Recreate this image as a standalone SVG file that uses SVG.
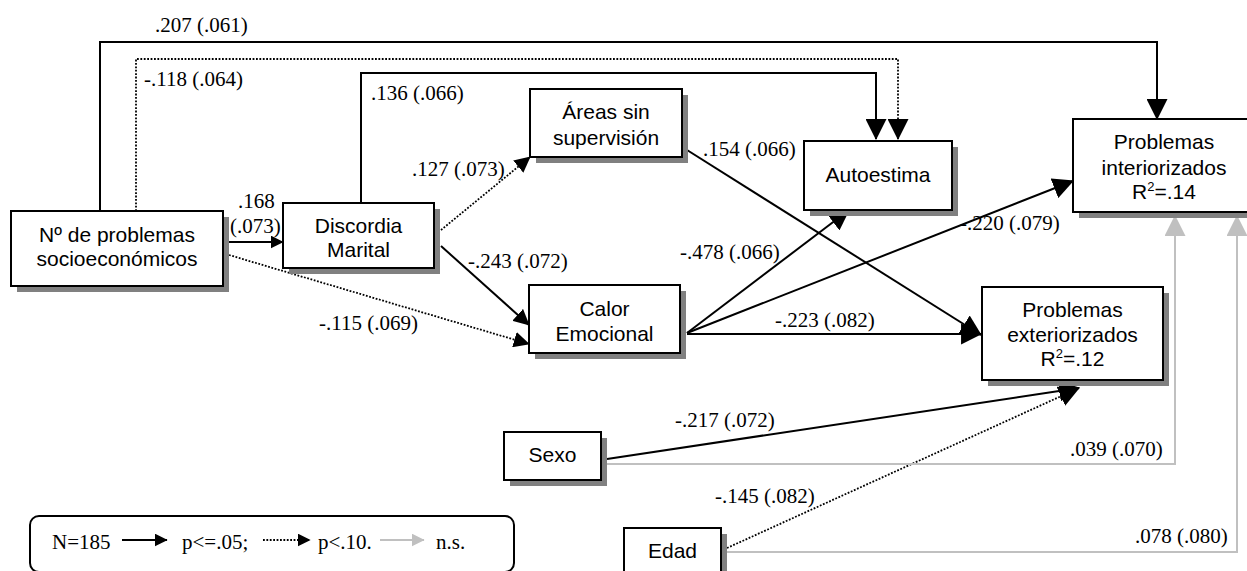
<svg xmlns="http://www.w3.org/2000/svg" width="1247" height="571" viewBox="0 0 1247 571">
  <style>
    .box { fill: #ffffff; stroke: #000000; stroke-width: 2; }
    .shadow { fill: #808080; }
    .node { font-family: "Liberation Sans", Arial, sans-serif; font-size: 21px; fill: #000000; text-anchor: middle; }
    .lbl { font-family: "Liberation Serif", "Times New Roman", serif; font-size: 21px; fill: #000000; }
    .solid { fill: none; stroke: #000000; stroke-width: 2; }
    .dot { fill: none; stroke: #000000; stroke-width: 1.8; stroke-dasharray: 1.8 1.6; }
    .gray { fill: none; stroke: #c0c0c0; stroke-width: 2; }
  </style>
  <defs>
    <marker id="big" markerUnits="userSpaceOnUse" markerWidth="21" markerHeight="21" viewBox="0 0 20 20" refX="19" refY="10" orient="auto">
      <path d="M0,0 L20,10 L0,20 z" fill="#000000"/>
    </marker>
    <marker id="med" markerUnits="userSpaceOnUse" markerWidth="16" markerHeight="16" viewBox="0 0 20 20" refX="19" refY="10" orient="auto">
      <path d="M0,0 L20,10 L0,20 z" fill="#000000"/>
    </marker>
    <marker id="small" markerUnits="userSpaceOnUse" markerWidth="13" markerHeight="13" viewBox="0 0 20 20" refX="19" refY="10" orient="auto">
      <path d="M0,0 L20,10 L0,20 z" fill="#000000"/>
    </marker>
    <marker id="biggray" markerUnits="userSpaceOnUse" markerWidth="21" markerHeight="21" viewBox="0 0 20 20" refX="19" refY="10" orient="auto">
      <path d="M0,0 L20,10 L0,20 z" fill="#c0c0c0"/>
    </marker>
    <marker id="smallgray" markerUnits="userSpaceOnUse" markerWidth="13" markerHeight="13" viewBox="0 0 20 20" refX="19" refY="10" orient="auto">
      <path d="M0,0 L20,10 L0,20 z" fill="#c0c0c0"/>
    </marker>
  </defs>

  <!-- paths between variables -->
  <g id="connectors">
    <path class="solid" d="M100,211 V42 H1157 V119" marker-end="url(#big)"/>
    <path class="dot" d="M136,211 V59 H898 V139" marker-end="url(#big)"/>
    <path class="solid" d="M361,203 V73 H876 V139" marker-end="url(#big)"/>
    <path class="solid" d="M229,242 H283" marker-end="url(#small)"/>
    <path class="dot" d="M441,230 L530,157" marker-end="url(#med)"/>
    <path class="solid" d="M441,246 L529,325" marker-end="url(#med)"/>
    <path class="dot" d="M229,255 L529,344" marker-end="url(#med)"/>
    <path class="solid" d="M687,150 L981,335" marker-end="url(#big)"/>
    <path class="solid" d="M687,333 L849,210" marker-end="url(#big)"/>
    <path class="solid" d="M687,333 L1073,181" marker-end="url(#big)"/>
    <path class="solid" d="M687,334 H981" marker-end="url(#big)"/>
    <path class="solid" d="M607,459 L1079,388" marker-end="url(#big)"/>
    <path class="dot" d="M727,548 L1079,388" marker-end="url(#big)"/>
    <path class="gray" d="M607,464 H1175 V216" marker-end="url(#biggray)"/>
    <path class="gray" d="M727,552 H1237 V216" marker-end="url(#biggray)"/>

    <text class="lbl" x="155" y="32">.207 (.061)</text>
    <text class="lbl" x="144" y="86">-.118 (.064)</text>
    <text class="lbl" x="371" y="100">.136 (.066)</text>
    <text class="lbl" x="238" y="208">.168</text>
    <text class="lbl" x="230" y="233">(.073)</text>
    <text class="lbl" x="412" y="176">.127 (.073)</text>
    <text class="lbl" x="468" y="268">-.243 (.072)</text>
    <text class="lbl" x="319" y="330">-.115 (.069)</text>
    <text class="lbl" x="703" y="156">.154 (.066)</text>
    <text class="lbl" x="680" y="259">-.478 (.066)</text>
    <text class="lbl" x="960" y="230">-.220 (.079)</text>
    <text class="lbl" x="775" y="327">-.223 (.082)</text>
    <text class="lbl" x="675" y="427">-.217 (.072)</text>
    <text class="lbl" x="715" y="503">-.145 (.082)</text>
    <text class="lbl" x="1070" y="456">.039 (.070)</text>
    <text class="lbl" x="1135" y="543">.078 (.080)</text>
  </g>

  <g id="socioeconomicos">
    <rect class="shadow" x="17" y="217" width="212" height="75"/>
    <rect class="box" x="11" y="211" width="212" height="75"/>
    <text class="node" x="117" y="242">Nº de problemas</text>
    <text class="node" x="117" y="266">socioeconómicos</text>
  </g>

  <g id="discordia">
    <rect class="shadow" x="289" y="209" width="151" height="65"/>
    <rect class="box" x="283" y="203" width="151" height="65"/>
    <text class="node" x="358.5" y="233">Discordia</text>
    <text class="node" x="358.5" y="257">Marital</text>
  </g>

  <g id="areas">
    <rect class="shadow" x="536" y="95" width="152" height="68"/>
    <rect class="box" x="530" y="89" width="152" height="68"/>
    <text class="node" x="606" y="119">Áreas sin</text>
    <text class="node" x="606" y="145">supervisión</text>
  </g>

  <g id="autoestima">
    <rect class="shadow" x="810" y="147" width="148" height="69"/>
    <rect class="box" x="804" y="141" width="148" height="69"/>
    <text class="node" x="878" y="182">Autoestima</text>
  </g>

  <g id="interiorizados">
    <rect class="shadow" x="1079" y="125" width="182" height="93"/>
    <rect class="box" x="1073" y="119" width="182" height="93"/>
    <text class="node" x="1164" y="149">Problemas</text>
    <text class="node" x="1164" y="175">interiorizados</text>
    <text class="node" x="1164" y="199">R<tspan font-size="13" dy="-8">2</tspan><tspan dy="8">=.14</tspan></text>
  </g>

  <g id="calor">
    <rect class="shadow" x="535" y="291" width="151" height="68"/>
    <rect class="box" x="529" y="285" width="151" height="68"/>
    <text class="node" x="604.5" y="316">Calor</text>
    <text class="node" x="604.5" y="341">Emocional</text>
  </g>

  <g id="exteriorizados">
    <rect class="shadow" x="988" y="293" width="181" height="93"/>
    <rect class="box" x="982" y="287" width="181" height="93"/>
    <text class="node" x="1072.5" y="317">Problemas</text>
    <text class="node" x="1072.5" y="342">exteriorizados</text>
    <text class="node" x="1072.5" y="366">R<tspan font-size="13" dy="-8">2</tspan><tspan dy="8">=.12</tspan></text>
  </g>

  <g id="sexo">
    <rect class="shadow" x="510" y="438" width="97" height="48"/>
    <rect class="box" x="504" y="432" width="97" height="48"/>
    <text class="node" x="552.5" y="462">Sexo</text>
  </g>

  <g id="edad">
    <rect class="shadow" x="630" y="534" width="97" height="48"/>
    <rect class="box" x="624" y="528" width="97" height="48"/>
    <text class="node" x="672.5" y="558">Edad</text>
  </g>

  <!-- key to line styles -->
  <g id="legend">
    <rect x="30" y="516" width="484" height="56" rx="9" ry="9" fill="#ffffff" stroke="#000000" stroke-width="2"/>
    <text class="lbl" x="52" y="549">N=185</text>
    <path class="solid" d="M122,540 H167" marker-end="url(#small)"/>
    <text class="lbl" x="182" y="549">p&lt;=.05;</text>
    <path class="dot" d="M263,540 H310" marker-end="url(#small)"/>
    <text class="lbl" x="318" y="549">p&lt;.10.</text>
    <path class="gray" d="M380,540 H424" marker-end="url(#smallgray)"/>
    <text class="lbl" x="436" y="549">n.s.</text>
  </g>
</svg>
